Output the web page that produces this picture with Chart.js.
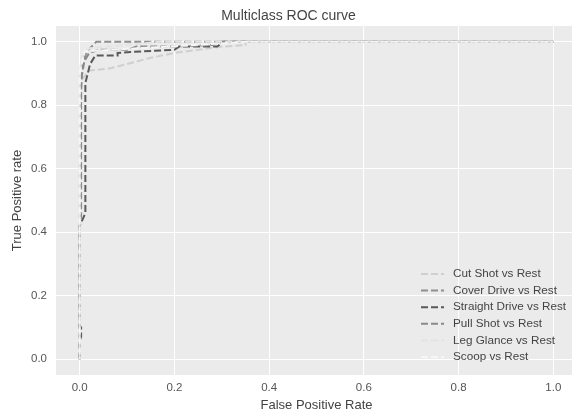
<!DOCTYPE html>
<html>
<head>
<meta charset="utf-8">
<script src="https://cdn.jsdelivr.net/npm/chart.js@4"></script>
<style>
  html, body { margin: 0; padding: 0; background: #fff; overflow: hidden; }
  #wrap { width: 632px; height: 416px; }
</style>
</head>
<body>
<div id="wrap"><canvas id="rocChart" width="632" height="416"></canvas></div>
<script>
// class names and line colours
const classNames = ['Cut Shot', 'Cover Drive', 'Straight Drive', 'Pull Shot', 'Leg Glance', 'Scoop'];
const lineColors = ['#cfcfcf', '#8f8f8f', '#5a5a5a', '#8a8a8a', '#e3e3e3', '#f6f6f6'];

// false / true positive rates
const fprCut = [0, 0, 0.004, 0.02, 0.06, 0.1, 0.15, 0.2, 0.3, 0.35, 0.35, 1];
const tprCut = [0, 0.6, 0.88, 0.91, 0.915, 0.93, 0.95, 0.965, 0.985, 0.99, 1, 1];

const fprCover = [0, 0, 0.003, 0.003, 0.006, 0.015, 0.035, 1];
const tprCover = [0, 0.42, 0.45, 0.85, 0.93, 0.97, 1, 1];

const fprStraight = [0, 0, 0.003, 0.003, 0, 0, 0.006, 0.012, 0.012, 0.022, 0.033, 0.08, 0.08, 0.107, 0.2, 0.21, 0.29, 0.295, 0.3, 1];
const tprStraight = [0, 0.06, 0.07, 0.1, 0.1, 0.42, 0.44, 0.46, 0.87, 0.93, 0.957, 0.957, 0.965, 0.968, 0.975, 0.985, 0.985, 0.99, 1, 1];

const fprPull = [0, 0, 0.003, 0.01, 0.02, 0.04, 0.1, 0.12, 0.2, 0.28, 0.3, 1];
const tprPull = [0, 0.35, 0.88, 0.94, 0.965, 0.975, 0.975, 0.985, 0.985, 0.99, 1, 1];

const fprLeg = [0, 0, 0.004, 0.02, 0.17, 1];
const tprLeg = [0, 0.9, 0.95, 0.98, 1, 1];

const fprScoop = [0, 0, 0.01, 0.3, 0.35, 1];
const tprScoop = [0, 0.9, 0.97, 0.995, 1, 1];

const tickValues = [0, 0.2, 0.4, 0.6, 0.8, 1.0];

const fprAll = [fprCut, fprCover, fprStraight, fprPull, fprLeg, fprScoop];
const tprAll = [tprCut, tprCover, tprStraight, tprPull, tprLeg, tprScoop];
const dashOffsets = [0, 0, 0, 0, 0, 5];

const datasets = classNames.map((name, i) => ({
    label: name + ' vs Rest',
    data: fprAll[i].map((x, j) => ({ x: x, y: tprAll[i][j] })),
    borderColor: lineColors[i],
    backgroundColor: lineColors[i],
    borderWidth: 2,
    borderDash: [7, 3],
    borderDashOffset: dashOffsets[i],
    showLine: true,
    pointRadius: 0,
    fill: false,
    order: -i, // later classes on top, like matplotlib
}));

// legend drawn inside the plot, lower right
const innerLegend = {
    id: 'innerLegend',
    afterDatasetsDraw(chart) {
        const ctx = chart.ctx;
        const area = chart.chartArea;
        const x0 = area.right - 156;
        const y0 = area.bottom - 101;
        ctx.save();
        ctx.font = '11.7px "Liberation Sans", Arial, sans-serif';
        ctx.textBaseline = 'middle';
        chart.data.datasets.forEach((ds, i) => {
            const y = y0 + i * 16.6;
            ctx.strokeStyle = ds.borderColor;
            ctx.lineWidth = 2;
            ctx.setLineDash([7, 3]);
            ctx.beginPath();
            ctx.moveTo(x0, y);
            ctx.lineTo(x0 + 23, y);
            ctx.stroke();
            ctx.fillStyle = '#444';
            ctx.fillText(ds.label, x0 + 32, y);
        });
        ctx.restore();
    }
};

const ctx = document.getElementById('rocChart').getContext('2d');
const rocChart = new Chart(ctx, {
    type: 'scatter',
    data: { datasets: datasets },
    plugins: [innerLegend, {
        id: 'plotBg',
        beforeDraw(chart) {
            const a = chart.chartArea;
            chart.ctx.save();
            chart.ctx.fillStyle = '#ebebeb';
            chart.ctx.fillRect(a.left, a.top, a.right - a.left, a.bottom - a.top);
            chart.ctx.restore();
        }
    }],
    options: {
        responsive: false,
        animation: false,
        devicePixelRatio: 1,
        layout: { padding: { top: 0, right: 55, bottom: 0, left: 0 } },
        plugins: {
            legend: { display: false },
            tooltip: { enabled: false },
            title: {
                display: true,
                text: 'Multiclass ROC curve',
                color: '#444',
                font: { family: '"Liberation Sans", Arial, sans-serif', size: 14, weight: 'normal' },
                padding: { top: 8, bottom: 1.2 },
            },
        },
        scales: {
            x: {
                type: 'linear',
                min: -0.05,
                max: 1.05,
                afterBuildTicks: scale => { scale.ticks = tickValues.map(v => ({ value: v })); },
                afterFit: scale => { scale.height = 41; },
                border: { display: false },
                grid: { color: '#ffffff', lineWidth: 1, drawTicks: false },
                ticks: {
                    color: '#555',
                    padding: 6,
                    font: { family: '"Liberation Sans", Arial, sans-serif', size: 11.5 },
                    callback: v => v.toFixed(1),
                },
                title: {
                    display: true,
                    text: 'False Positive Rate',
                    color: '#444',
                    font: { family: '"Liberation Sans", Arial, sans-serif', size: 13 },
                    padding: { top: 0, bottom: 3 },
                },
            },
            y: {
                type: 'linear',
                min: -0.05,
                max: 1.05,
                afterBuildTicks: scale => { scale.ticks = tickValues.map(v => ({ value: v })); },
                afterFit: scale => { scale.width = 56; },
                border: { display: false },
                grid: { color: '#ffffff', lineWidth: 1, drawTicks: false },
                ticks: {
                    color: '#555',
                    padding: 9,
                    font: { family: '"Liberation Sans", Arial, sans-serif', size: 11.5 },
                    callback: v => v.toFixed(1),
                },
                title: {
                    display: true,
                    text: 'True Positive rate',
                    color: '#444',
                    font: { family: '"Liberation Sans", Arial, sans-serif', size: 13 },
                    padding: { top: 10, bottom: 0 },
                },
            },
        },
    },
});
</script>
</body>
</html>
